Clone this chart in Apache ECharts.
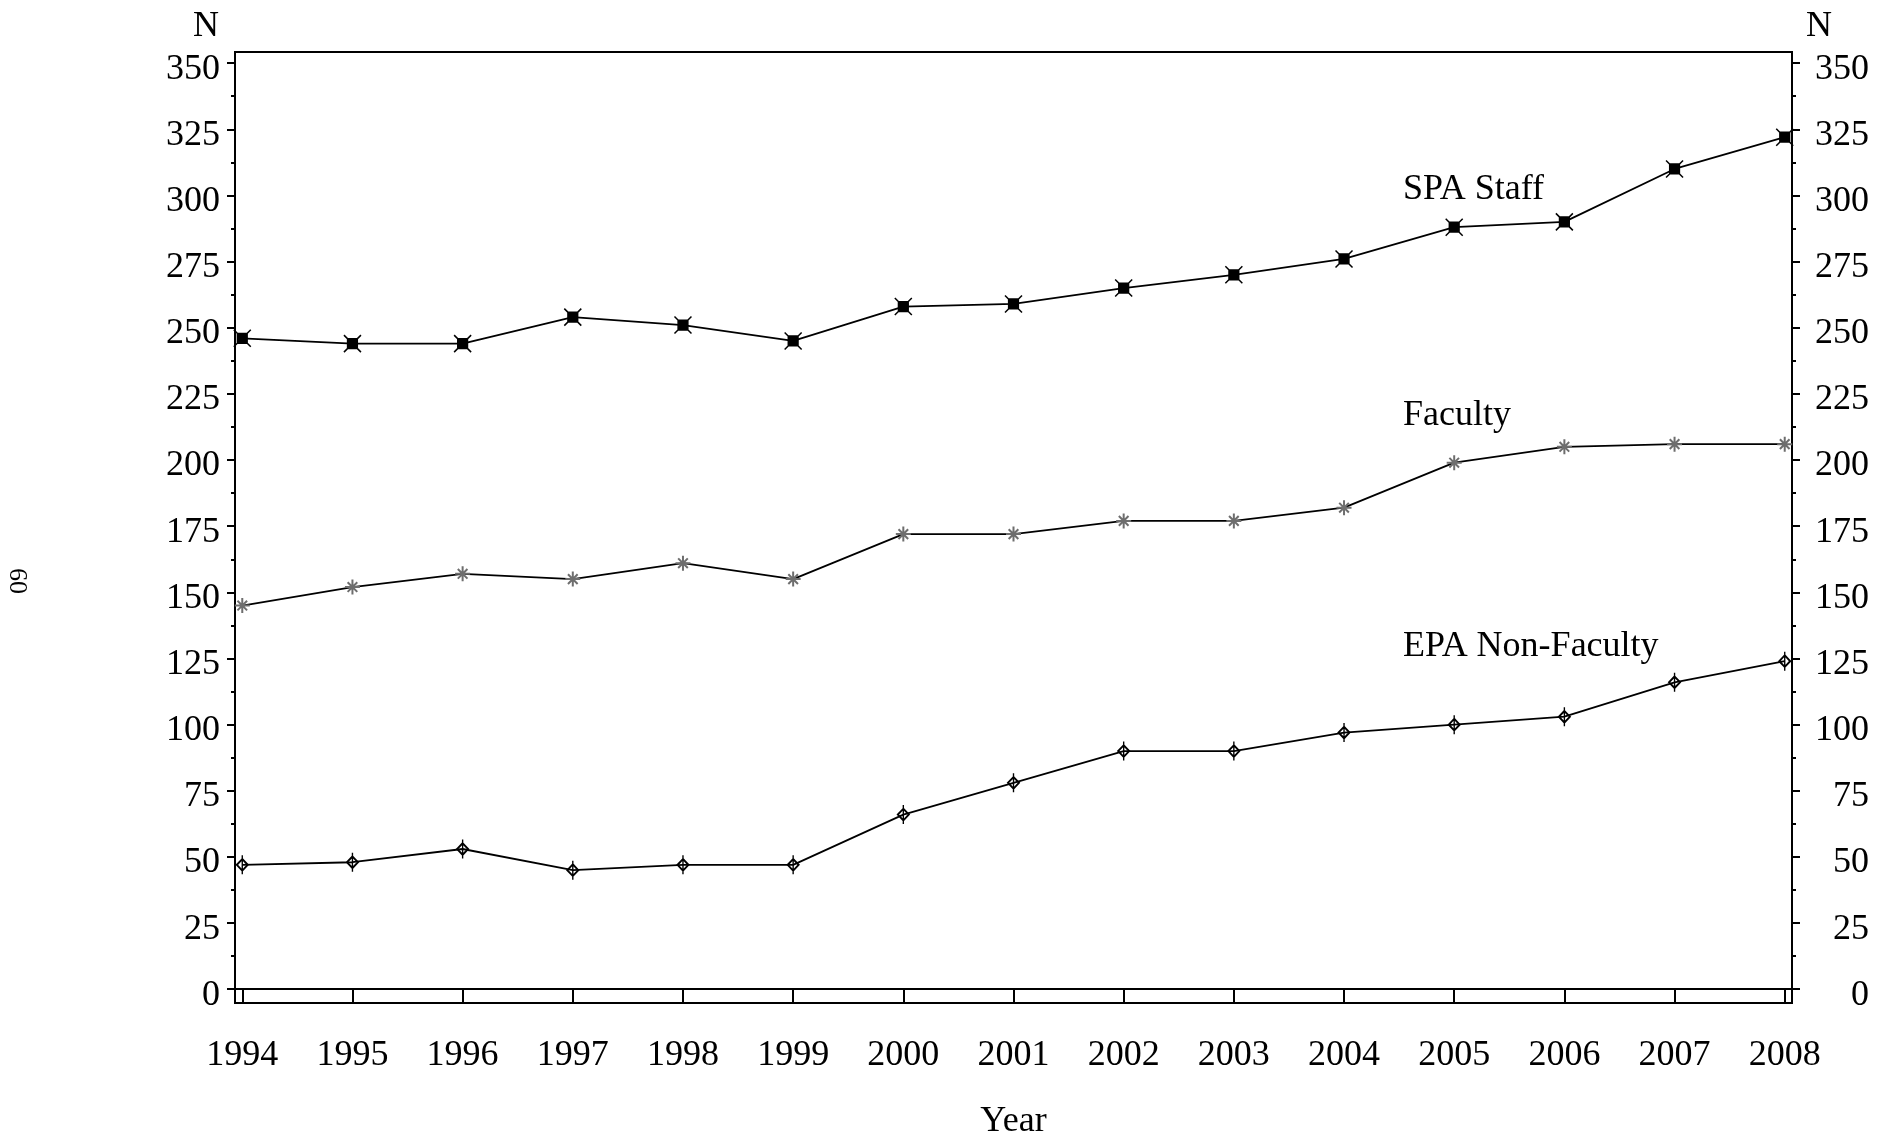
<!DOCTYPE html>
<html>
<head>
<meta charset="utf-8">
<script src="https://cdn.jsdelivr.net/npm/echarts@6/dist/echarts.min.js"></script>
<style>
html,body{margin:0;padding:0;background:#fff;}
#chart{width:1878px;height:1134px;}
</style>
</head>
<body>
<div id="chart"></div>
<script>
// ---- data ----
var years = [1994, 1995, 1996, 1997, 1998, 1999, 2000, 2001, 2002, 2003, 2004, 2005, 2006, 2007, 2008];
var spaStaff = [246, 244, 244, 254, 251, 245, 258, 259, 265, 270, 276, 288, 290, 310, 322];
var faculty  = [145, 152, 157, 155, 161, 155, 172, 172, 177, 177, 182, 199, 205, 206, 206];
var epaNonFaculty = [47, 48, 53, 45, 47, 47, 66, 78, 90, 90, 97, 100, 103, 116, 124];
var yTicks = [0, 25, 50, 75, 100, 125, 150, 175, 200, 225, 250, 275, 300, 325, 350];
var yMinorTicks = [12.5, 37.5, 62.5, 87.5, 112.5, 137.5, 162.5, 187.5, 212.5, 237.5, 262.5, 287.5, 312.5, 337.5];
var seriesNames = ['SPA Staff', 'Faculty', 'EPA Non-Faculty'];
// label anchors (data coordinates: year, value)
var labelAnchors = [[2004.53, 302.2], [2004.53, 216.7], [2004.53, 129.6]];

var FONT = 'Liberation Serif';
var chart = echarts.init(document.getElementById('chart'));

function pts(arr) { return years.map(function (y, i) { return [y, arr[i]]; }); }

var yMin = -5.2, yMax = 354.2;
function yAxisMain(pos) {
  return {
    type: 'value', position: pos, min: yMin, max: yMax,
    splitLine: { show: false },
    axisLine: { show: true, lineStyle: { color: '#000', width: 2 } },
    axisTick: { show: true, length: 8, customValues: yTicks, lineStyle: { color: '#000', width: 2 } },
    axisLabel: {
      show: true, customValues: yTicks, color: '#000', fontFamily: FONT, fontSize: 36,
      margin: pos === 'left' ? 15 : 77, align: 'right',
      formatter: function (v) { return '{t|' + Math.round(v) + '}'; },
      rich: { t: { fontFamily: FONT, fontSize: 36, color: '#000', padding: [12, 0, 0, 0] } }
    }
  };
}
function yAxisMinor(pos) {
  return {
    type: 'value', position: pos, min: yMin, max: yMax,
    splitLine: { show: false },
    axisLine: { show: false },
    axisTick: { show: true, length: 4, customValues: yMinorTicks, lineStyle: { color: '#000', width: 2 } },
    axisLabel: { show: false }
  };
}

var markerPaths = [
  'path://M3,3L11,3L11,11L3,11Z M0,0L14,14 M14,0L0,14',
  'path://M7,0L7,14 M0,7L14,7 M2.5,2.5L11.5,11.5 M11.5,2.5L2.5,11.5',
  'path://M5,3.5L9,9L5,14.5L1,9Z M5,0L5,18'
];
var markerSizes = [[17, 17], [15, 15], [11, 19]];
var markerFill = ['#000', 'rgba(0,0,0,0)', 'rgba(0,0,0,0)'];
var markerStroke = ['#000', '#6e6e6e', '#000'];
var markerWidth = [1.5, 2, 1.8];
var dataSets = [spaStaff, faculty, epaNonFaculty];

var series = dataSets.map(function (d, k) {
  return {
    name: seriesNames[k], type: 'line', data: pts(d),
    symbol: markerPaths[k], symbolSize: markerSizes[k],
    itemStyle: { color: markerFill[k], borderColor: markerStroke[k], borderWidth: markerWidth[k] },
    lineStyle: { color: '#000', width: 1.8 },
    z: 3,
    markPoint: {
      symbol: 'circle', symbolSize: 1,
      itemStyle: { color: 'rgba(0,0,0,0)' },
      label: {
        show: true, position: 'right', distance: 0, color: '#000',
        fontFamily: FONT, fontSize: 36, formatter: seriesNames[k]
      },
      data: [{ coord: labelAnchors[k] }]
    }
  };
});

var option = {
  backgroundColor: '#fff',
  animation: false,
  grid: { left: 235, right: 86, top: 52, bottom: 131, outerBoundsMode: 'none', containLabel: false,
    show: true, borderColor: '#000', borderWidth: 2, backgroundColor: 'rgba(0,0,0,0)' },
  xAxis: {
    type: 'value', min: 1993.934, max: 2008.066,
    name: 'Year', nameLocation: 'middle', nameGap: 101,
    nameTextStyle: { color: '#000', fontFamily: FONT, fontSize: 36 },
    splitLine: { show: false },
    axisLine: { show: true, lineStyle: { color: '#000', width: 2 } },
    axisTick: { show: true, length: 14, customValues: years, lineStyle: { color: '#000', width: 2 } },
    axisLabel: { show: true, customValues: years, color: '#000', fontFamily: FONT, fontSize: 36, margin: 35,
      formatter: function (v) { return String(Math.round(v)); } }
  },
  yAxis: [yAxisMain('left'), yAxisMain('right'), yAxisMinor('left'), yAxisMinor('right')],
  graphic: [
    { type: 'text', left: 193, top: 9, style: { text: 'N', fontFamily: FONT, fontSize: 36, fill: '#000' } },
    { type: 'text', left: 1806, top: 9, style: { text: 'N', fontFamily: FONT, fontSize: 36, fill: '#000' } },
    { type: 'text', x: 4, y: 568, rotation: -Math.PI / 2,
      style: { text: '60', fontFamily: FONT, fontSize: 26, fill: '#000', align: 'left', verticalAlign: 'bottom' } }
  ],
  series: series
};
chart.setOption(option);
</script>
</body>
</html>
